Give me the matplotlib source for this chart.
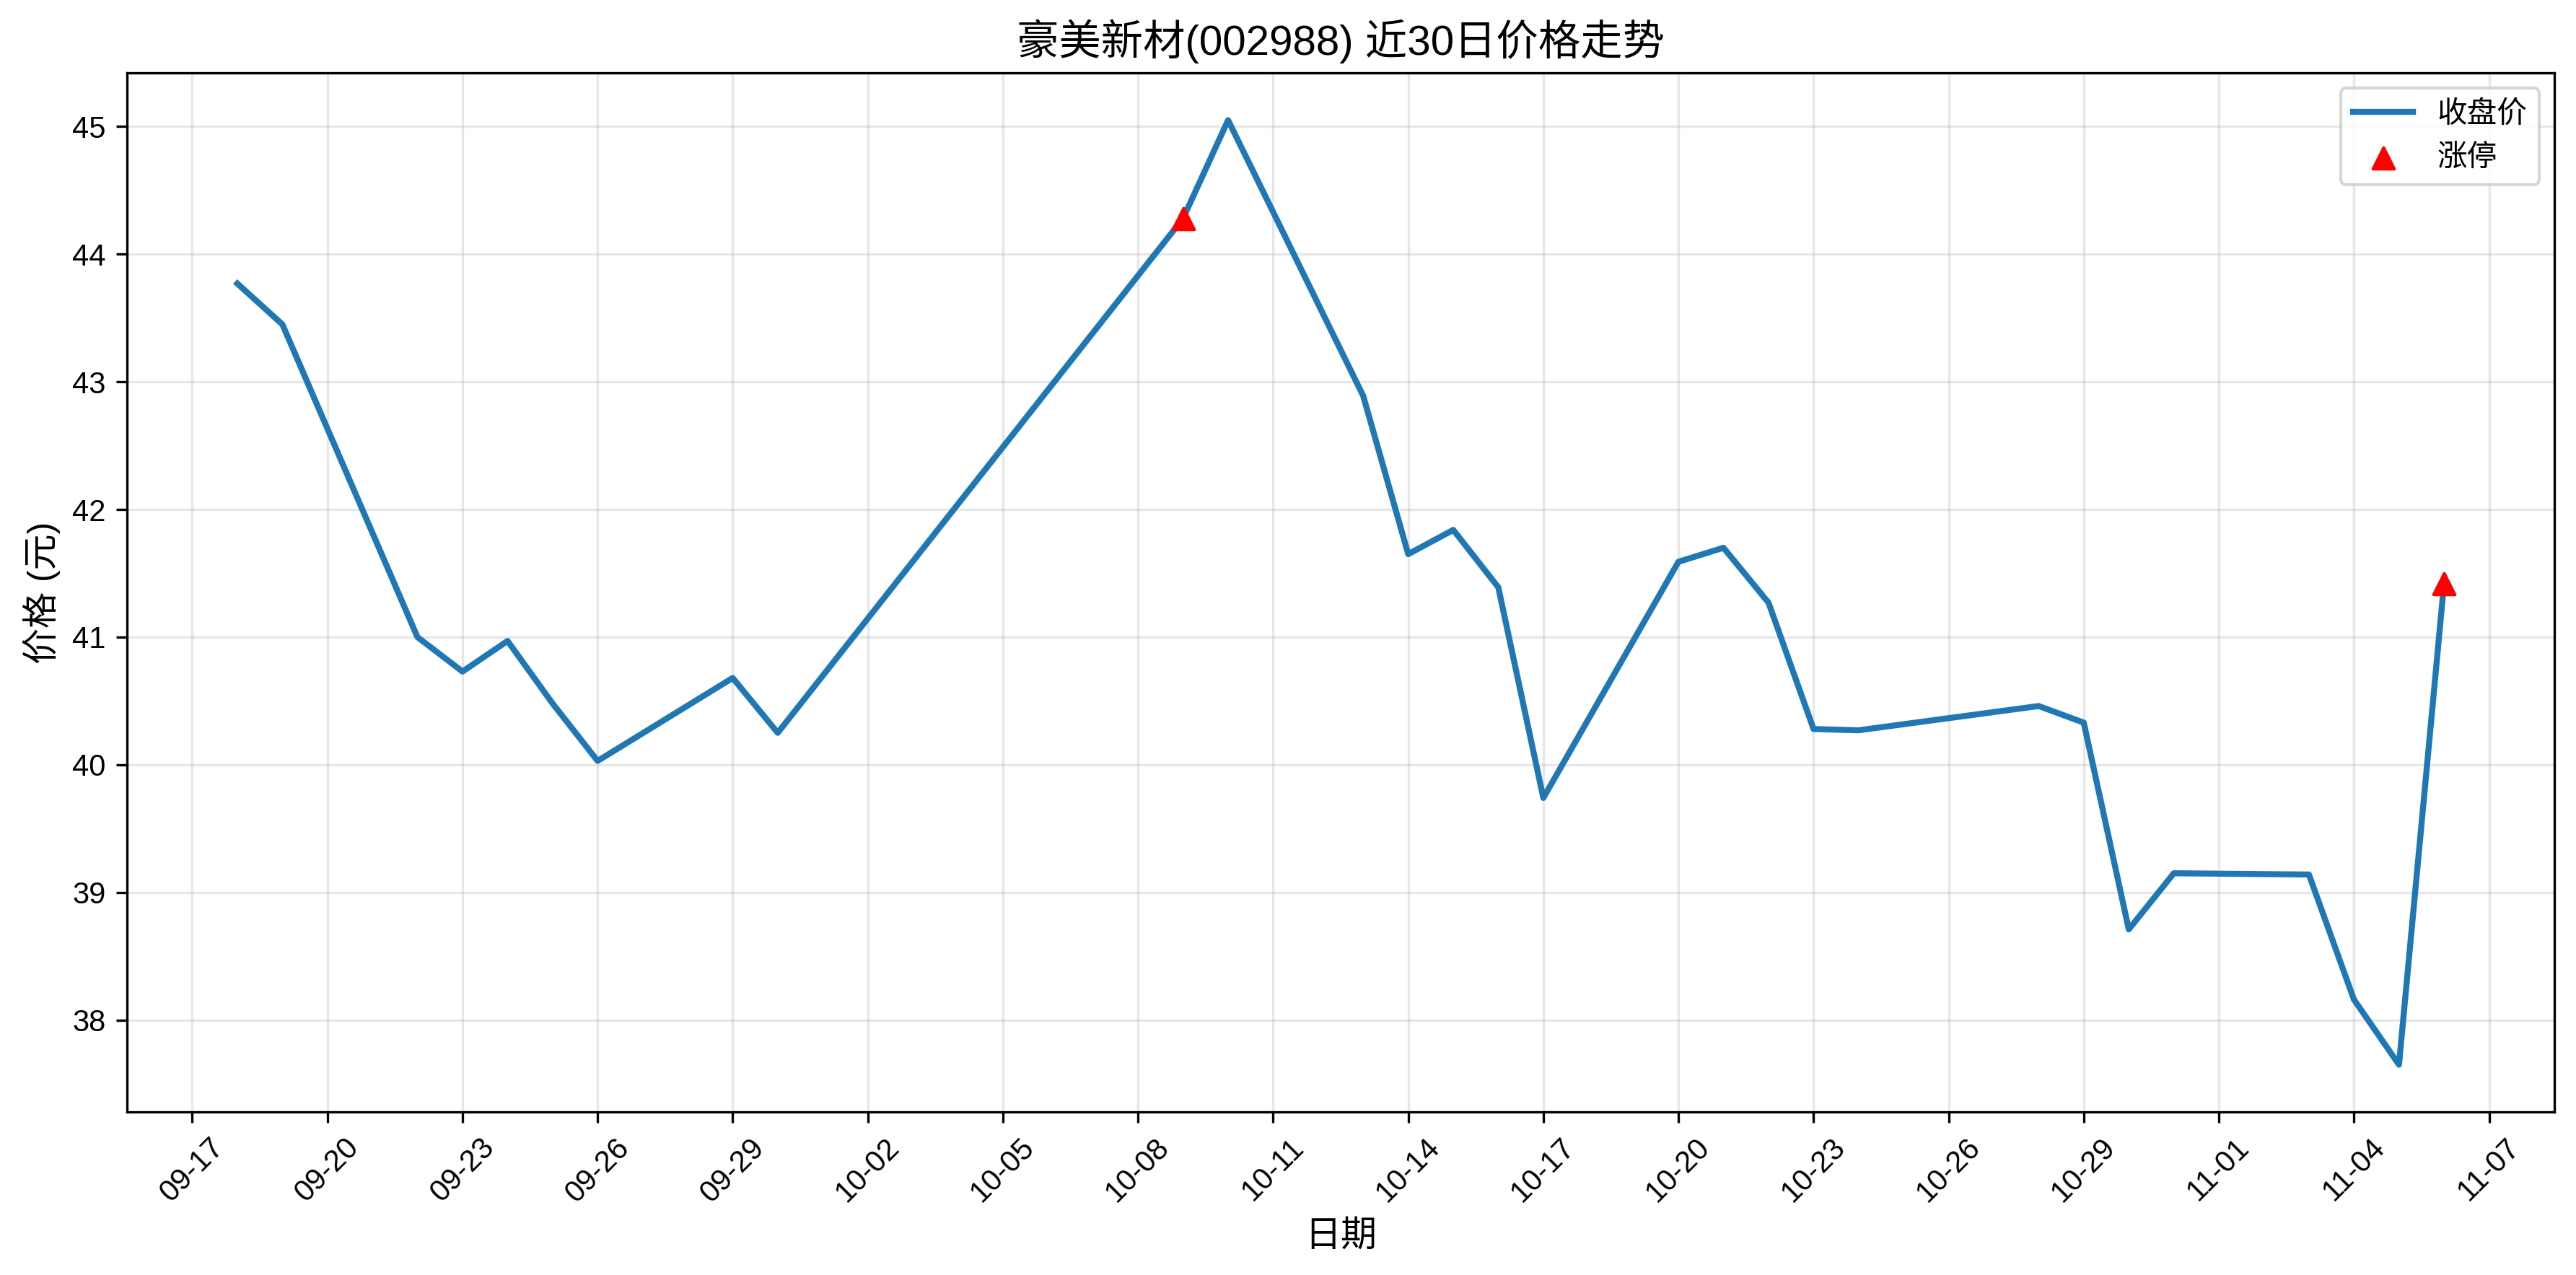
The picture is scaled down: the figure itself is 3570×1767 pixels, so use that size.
import matplotlib
matplotlib.use('Agg')
import matplotlib.pyplot as plt
import matplotlib.dates as mdates
import pandas as pd

plt.rcParams['font.family'] = ['Liberation Sans', 'Noto Sans CJK SC']
plt.rcParams['axes.unicode_minus'] = False

# 收盘价
dates = ['2025-09-18', '2025-09-19', '2025-09-22', '2025-09-23', '2025-09-24',
         '2025-09-25', '2025-09-26', '2025-09-29', '2025-09-30', '2025-10-09',
         '2025-10-10', '2025-10-13', '2025-10-14', '2025-10-15', '2025-10-16',
         '2025-10-17', '2025-10-20', '2025-10-21', '2025-10-22', '2025-10-23',
         '2025-10-24', '2025-10-28', '2025-10-29', '2025-10-30', '2025-10-31',
         '2025-11-03', '2025-11-04', '2025-11-05', '2025-11-06']
close = [43.77, 43.45, 41.00, 40.73, 40.97,
         40.48, 40.03, 40.68, 40.25, 44.28,
         45.05, 42.89, 41.65, 41.84, 41.39,
         39.74, 41.59, 41.70, 41.27, 40.28,
         40.27, 40.46, 40.33, 38.71, 39.15,
         39.14, 38.16, 37.65, 41.42]

# 涨停日
limit_dates = ['2025-10-09', '2025-11-06']
limit_prices = [44.28, 41.42]

tick_start = '2025-09-17'
tick_end = '2025-11-07'

dates = pd.to_datetime(dates)
limit_dates = pd.to_datetime(limit_dates)

fig, ax = plt.subplots(figsize=(3570 / 300, 1767 / 300), dpi=300)
fig.subplots_adjust(left=0.0493, right=0.9916, top=0.9428, bottom=0.1279)

ax.plot(dates, close, linewidth=2, label='收盘价')
ax.scatter(limit_dates, limit_prices, marker='^', color='red', s=50, zorder=5, label='涨停')

ax.set_title('豪美新材(002988) 近30日价格走势', fontsize=14)
ax.set_xlabel('日期', fontsize=12)
ax.set_ylabel('价格 (元)', fontsize=12)

ax.set_xticks(pd.date_range(tick_start, tick_end, freq='3D'))
ax.xaxis.set_major_formatter(mdates.DateFormatter('%m-%d'))
plt.setp(ax.get_xticklabels(), rotation=45)

ax.grid(True, alpha=0.3)
ax.legend(loc='upper right')

fig.savefig('out.png', dpi=300)
